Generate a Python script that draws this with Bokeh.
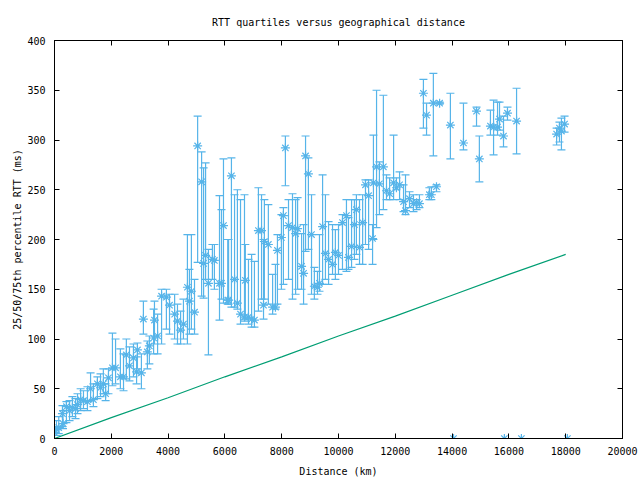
from bokeh.plotting import figure
from bokeh.models import ColumnDataSource, LinearAxis, SingleIntervalTicker, Range1d
from bokeh.embed import file_html
from bokeh.resources import INLINE

# distance (km), median RTT, 25th percentile, 75th percentile (ms)
distance_km = [0, 70, 150, 280, 300, 420, 530, 630, 740, 810, 920, 1020, 1160, 1270, 1370, 1510, 1620,
               1720, 1800, 1900, 2040, 2150, 2320, 2430, 2530, 2640, 2780, 2890, 2920, 3060, 3130, 3270,
               3340, 3490, 3520, 3630, 3770, 3940, 4050, 4230, 4330, 4440, 4540, 4680, 4750, 4820, 4930,
               5040, 5180, 5250, 5320, 5420, 5560, 5630, 5810, 5880, 5950, 6100, 6130, 6230, 6340, 6440,
               6550, 6690, 6720, 6830, 6940, 7040, 7180, 7290, 7360, 7390, 7530, 7680, 7780, 7850, 7990,
               8060, 8130, 8240, 8380, 8490, 8560, 8700, 8770, 8840, 8940, 9050, 9150, 9260, 9330, 9440,
               9540, 9650, 9790, 9890, 10000, 10140, 10280, 10350, 10460, 10560, 10630, 10740, 10850,
               10950, 11060, 11200, 11230, 11340, 11440, 11580, 11690, 11800, 11940, 12040, 12150, 12290,
               12360, 12500, 12640, 12750, 12850, 12990, 13100, 13200, 13270, 13340, 13450, 13560, 13940,
               14050, 14400, 14860, 14960, 15350, 15460, 15600, 15670, 15810, 15840, 15950, 16270, 16440,
               17680, 17780, 17850, 17960, 18060]
median_ms = [6, 9, 11, 25, 15, 32, 28, 31, 30, 34, 39, 38, 37, 50, 39, 55, 51,
             55, 45, 61, 71, 71, 62, 62, 84, 73, 81, 67, 89, 66, 120, 87,
             93, 101, 119, 103, 143, 142, 134, 125, 118, 109, 115, 152, 138, 148, 127,
             294, 258, 176, 184, 156, 180, 179, 156, 156, 214, 139, 139, 264, 160, 136,
             125, 122, 159, 122, 120, 119, 209, 209, 134, 198, 195, 132, 132, 189, 202,
             224, 292, 214, 212, 206, 211, 173, 166, 284, 266, 205, 153, 152, 156, 213,
             186, 180, 175, 187, 184, 217, 224, 182, 193, 215, 230, 192, 217,
             255, 244, 201, 257, 273, 256, 273, 249, 246, 257, 252, 255, 238,
             229, 241, 236, 237, 236, 347, 325, 245, 245, 337, 253, 337, 315,
             0, 297, 329, 281, 314, 313, 313, 321, 304, 0, 327, 319, 0,
             306, 312, 309, 316, 0]
q25_ms = [0, 3, 5, 12, 10, 16, 18, 22, 20, 25, 28, 30, 28, 38, 32, 40, 42,
          45, 38, 45, 53, 55, 50, 48, 60, 58, 62, 55, 70, 50, 105, 70,
          75, 85, 95, 85, 95, 110, 105, 100, 95, 95, 100, 95, 105, 110, 105,
          177, 143, 141, 160, 84, 160, 150, 119, 140, 136, 135, 135, 132, 132, 130,
          115, 118, 120, 115, 112, 112, 128, 140, 120, 140, 135, 125, 130, 135, 150,
          155, 254, 160, 140, 145, 150, 150, 135, 188, 190, 145, 140, 145, 148, 155,
          160, 155, 165, 160, 165, 170, 168, 170, 172, 180, 185, 175, 175,
          195, 190, 175, 200, 212, 225, 230, 240, 240, 240, 250, 240, 228,
          225, 232, 228, 230, 232, 312, 305, 240, 240, 284, 248, 336, 281,
          0, 290, 314, 258, 305, 285, 305, 310, 293, 0, 320, 286, 0,
          295, 298, 290, 308, 0]
q75_ms = [12, 18, 22, 33, 28, 37, 38, 42, 40, 45, 50, 48, 52, 66, 55, 62, 65,
          70, 55, 70, 106, 100, 90, 85, 100, 92, 95, 82, 96, 85, 138, 98,
          103, 130, 138, 125, 150, 150, 145, 145, 135, 128, 140, 205, 170, 205, 160,
          324, 288, 272, 277, 190, 195, 195, 244, 230, 281, 200, 200, 282, 245, 250,
          240, 245, 195, 180, 185, 178, 252, 245, 200, 240, 235, 165, 175, 205, 225,
          232, 304, 240, 246, 240, 242, 206, 215, 304, 282, 245, 172, 168, 205, 265,
          245, 218, 215, 210, 215, 225, 240, 222, 240, 240, 245, 240, 245,
          260, 260, 215, 305, 350, 278, 345, 265, 262, 305, 262, 268, 255,
          265, 248, 245, 240, 245, 361, 337, 252, 253, 367, 255, 338, 347,
          0, 337, 333, 304, 330, 340, 338, 338, 324, 0, 333, 352, 0,
          312, 318, 322, 324, 0]

# theoretical minimum RTT over fibre
min_km = [0, 2000, 4000, 6000, 8000, 10000, 12000, 14000, 16000, 18000]
min_ms = [0, 21, 41, 62, 82, 103, 123, 144, 165, 185]

BLUE = "#56b4e9"
GREEN = "#009e73"
FONT = "DejaVu Sans Mono"

src = ColumnDataSource(dict(x=distance_km, med=median_ms, lo=q25_ms, hi=q75_ms))

p = figure(width=640, height=480, output_backend="svg", toolbar_location=None,
           x_range=Range1d(0, 20000), y_range=Range1d(0, 400),
           title="RTT quartiles versus geographical distance",
           min_border_left=54, min_border_right=18, min_border_top=40, min_border_bottom=42)
p.background_fill_color = "white"
p.border_fill_color = "white"
p.outline_line_color = "black"
p.grid.visible = False

p.title.align = "center"
p.title.text_font = FONT
p.title.text_font_size = "10px"
p.title.text_font_style = "normal"
p.title.text_color = "black"
p.title.standoff = 25

p.xaxis.ticker = SingleIntervalTicker(interval=2000)
p.yaxis.ticker = SingleIntervalTicker(interval=50)
p.xaxis.axis_label = "Distance (km)"
p.yaxis.axis_label = "25/50/75th percentile RTT (ms)"
for ax in (p.xaxis[0], p.yaxis[0]):
    ax.major_tick_in = 5
    ax.major_tick_out = 0
    ax.minor_tick_in = 0
    ax.minor_tick_out = 0
    ax.axis_line_color = "black"
    ax.major_tick_line_color = "black"
    ax.major_label_text_font = FONT
    ax.major_label_text_font_size = "10px"
    ax.major_label_text_color = "black"
    ax.axis_label_text_font = FONT
    ax.axis_label_text_font_size = "10px"
    ax.axis_label_text_font_style = "normal"
    ax.axis_label_text_color = "black"
p.xaxis.major_label_standoff = 8
p.xaxis.axis_label_standoff = 8
p.yaxis.major_label_standoff = 9
p.yaxis.axis_label_standoff = 1

# mirrored ticks on top and right (no labels drawn)
for loc, tk in (("above", SingleIntervalTicker(interval=2000)), ("right", SingleIntervalTicker(interval=50))):
    ax = LinearAxis(ticker=tk)
    ax.major_tick_in = 5
    ax.major_tick_out = 0
    ax.minor_tick_in = 0
    ax.minor_tick_out = 0
    ax.major_label_text_color = None
    ax.major_label_text_font_size = "1px"
    ax.major_label_standoff = 0
    ax.axis_line_color = "black"
    ax.major_tick_line_color = "black"
    p.add_layout(ax, loc)

p.segment(x0="x", y0="lo", x1="x", y1="hi", source=src, line_color=BLUE, line_width=1.2)
p.scatter(x="x", y="lo", source=src, marker="dash", size=8, line_color=BLUE, line_width=1.2)
p.scatter(x="x", y="hi", source=src, marker="dash", size=8, line_color=BLUE, line_width=1.2)
p.scatter(x="x", y="med", source=src, marker="asterisk", size=9, line_color=BLUE, line_width=1.2)

p.line(min_km, min_ms, line_color=GREEN, line_width=1.2)

open("out.html", "w").write(file_html(p, INLINE))
